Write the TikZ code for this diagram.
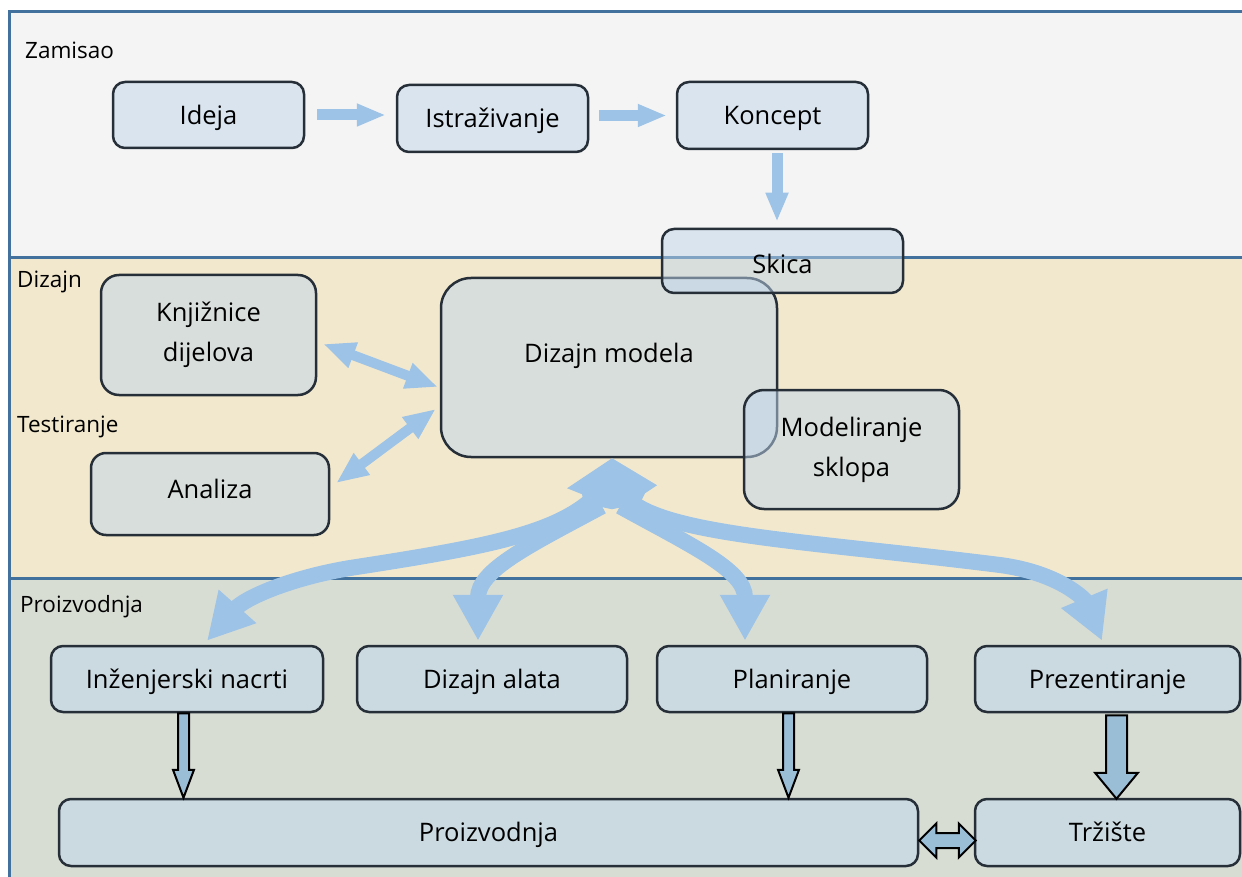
\documentclass[tikz,border=0pt]{standalone}
\usepackage{fontspec}
\setmainfont{Open Sans}
\usetikzlibrary{arrows.meta,calc}
\definecolor{bandA}{RGB}{244,244,244}
\definecolor{bandB}{RGB}{242,232,205}
\definecolor{bandC}{RGB}{216,221,212}
\definecolor{frameblue}{RGB}{65,113,156}
\definecolor{nodefill}{RGB}{192,214,236}
\definecolor{nodeline}{RGB}{38,46,56}
\definecolor{arrowblue}{RGB}{157,195,230}
\definecolor{blockfill}{RGB}{155,190,215}
\newcommand{\bdown}[5]{\draw[blockarrow] let \p1=#1, \p2=#2 in (\x1-#3,\y1) -- (\x1+#3,\y1) -- (\x1+#3,\y2+#5) -- (\x1+#4,\y2+#5) -- (\x1,\y2) -- (\x1-#4,\y2+#5) -- (\x1-#3,\y2+#5) -- cycle;}
\begin{document}
\begin{tikzpicture}[x=1pt,y=-1pt,
  box/.style={draw=nodeline, line width=2.5pt, fill=nodefill, fill opacity=0.5, text opacity=1, draw opacity=1,
    rounded corners=12pt, inner sep=0pt, font=\fontsize{25.5}{40}\selectfont, align=center},
  onel/.style={box, text height=25pt, text depth=6.5pt},
  bandlabel/.style={anchor=west, inner sep=0pt, font=\fontsize{22.5}{27}\selectfont},
  bandline/.style={draw=frameblue, line width=3pt},
  flowarrow/.style={draw=arrowblue, line width=11pt, -{Triangle[length=29pt,width=21pt]}},
  twoway/.style={draw=arrowblue, line width=10pt, {Triangle[length=32pt,width=25pt]}-{Triangle[length=32pt,width=25pt]}},
  fan/.style={draw=arrowblue, line width=16pt, -{Triangle[length=46pt,width=47pt]}},
  blockarrow/.style={draw=black, line width=2pt, fill=blockfill, line join=miter}]
\useasboundingbox (0,0) rectangle (1242,877);
% bands
\fill[bandA] (9,12) rectangle (1242,258);
\fill[bandB] (9,258) rectangle (1242,578);
\fill[bandC] (9,578) rectangle (1242,877);
\draw[bandline] (1242,12) -- (9,12) -- (9,877);
\draw[bandline] (9,258) -- (1242,258);
\draw[bandline] (9,578) -- (1242,578);
\node[bandlabel] (lz) at (25,50) {Zamisao};
\node[bandlabel] (ld) at (17,282) {Dizajn};
\node[bandlabel] (lt) at (17,427) {Testiranje};
\node[bandlabel] (lp) at (20,607) {Proizvodnja};
% nodes
\node[onel, minimum width=191, minimum height=66] (ideja) at (208.5,115) {Ideja};
\node[onel, minimum width=191, minimum height=67] (istr) at (492.5,118.5) {Istraživanje};
\node[onel, minimum width=191, minimum height=67] (konc) at (772.5,115.5) {Koncept};
\node[box, minimum width=215, minimum height=120, rounded corners=18pt] (knj) at (208.5,335) {Knjižnice\\dijelova};
\node[box, minimum width=336, minimum height=179, rounded corners=30pt, text height=19pt, text depth=29.5pt] (dm) at (609,367.5) {Dizajn modela};
\node[box, minimum width=241, minimum height=64, text height=31pt, text depth=6.5pt] (skica) at (782.5,261) {Skica};
\node[box, minimum width=215, minimum height=119, rounded corners=20pt] (mod) at (851.5,449.5) {Modeliranje\\sklopa};
\node[box, minimum width=238, minimum height=82, rounded corners=15pt, text height=19pt, text depth=10.4pt] (anal) at (210,494) {Analiza};
\node[onel, minimum width=272, minimum height=66] (ing) at (187,679) {Inženjerski nacrti};
\node[onel, minimum width=270, minimum height=66] (da) at (492,679) {Dizajn alata};
\node[onel, minimum width=270, minimum height=66] (plan) at (792,679) {Planiranje};
\node[onel, minimum width=265, minimum height=66] (prez) at (1107.5,679) {Prezentiranje};
\node[onel, minimum width=859, minimum height=67] (prz) at (488.5,832.5) {Proizvodnja};
\node[onel, minimum width=265, minimum height=67] (trz) at (1107.5,832.5) {Tržište};
% top flow arrows
\draw[flowarrow, shorten <=12pt, shorten >=10pt] (ideja.east) -- (istr.west |- ideja.east);
\draw[flowarrow, shorten <=10pt, shorten >=9pt] (istr.east |- konc.east) -- (konc.west);
\draw[flowarrow, shorten <=3pt, shorten >=6pt] ([shift={(4.5,0)}]konc.south) -- ([shift={(4.5,0)}]konc.south |- skica.north);
% two-way arrows
\draw[twoway] ([shift={(6,9)}]knj.east) -- ([shift={(-2,19.5)}]dm.west);
\draw[twoway] ([shift={(6,-11)}]anal.east) -- ([shift={(-4,41.5)}]dm.west);
% fan of curved arrows
\coordinate (hub) at ([shift={(3,0)}]dm.south);
\draw[fan] ($(hub)+(-22,43)$) .. controls (550,535) and (480,548) .. (350,568) .. controls (290,578) and (245,598) .. ([shift={(20,-4)}]ing.north);
\draw[fan] ($(hub)+(-10,48)$) .. controls (530,545) and (478,570) .. ([shift={(-14,-4)}]da.north);
\draw[fan] ($(hub)+(8,48)$) .. controls (690,545) and (745,570) .. ([shift={(-47,-4)}]plan.north);
\draw[fan] ($(hub)+(13,38)$) .. controls (660,535) and (800,540) .. (1000,565) .. controls (1060,573) and (1085,600) .. ([shift={(-5.5,-4)}]prez.north);
\fill[arrowblue] (hub) -- ($(hub)+(45,27)$) -- ($(hub)+(33,35)$) -- ($(hub)+(28,45)$) -- ($(hub)+(0,51)$) -- ($(hub)+(-28,45)$) -- ($(hub)+(-30,36)$) -- ($(hub)+(-45,30)$) -- cycle;
% bottom block arrows
\bdown{([shift={(-3.5,0)}]ing.south)}{([shift={(-3.5,0)}]ing.south |- prz.north)}{5.5pt}{10.5pt}{28pt}
\bdown{([shift={(-3.5,0)}]plan.south)}{([shift={(-3.5,0)}]plan.south |- prz.north)}{5.5pt}{10.5pt}{28pt}
\bdown{([shift={(9,2)}]prez.south)}{([shift={(9,1)}]prez.south |- trz.north)}{10.5pt}{21.5pt}{26pt}
\draw[blockarrow] let \p1=([shift={(0,8)}]prz.east), \p2=([shift={(2,8)}]trz.west) in
  (\x1,\y1) -- (\x1+17pt,\y1+17pt) -- (\x1+17pt,\y1+7.5pt) -- (\x2-17pt,\y1+7.5pt) -- (\x2-17pt,\y1+17pt) -- (\x2,\y1)
  -- (\x2-17pt,\y1-17pt) -- (\x2-17pt,\y1-7.5pt) -- (\x1+17pt,\y1-7.5pt) -- (\x1+17pt,\y1-17pt) -- cycle;
\end{tikzpicture}
\end{document}
